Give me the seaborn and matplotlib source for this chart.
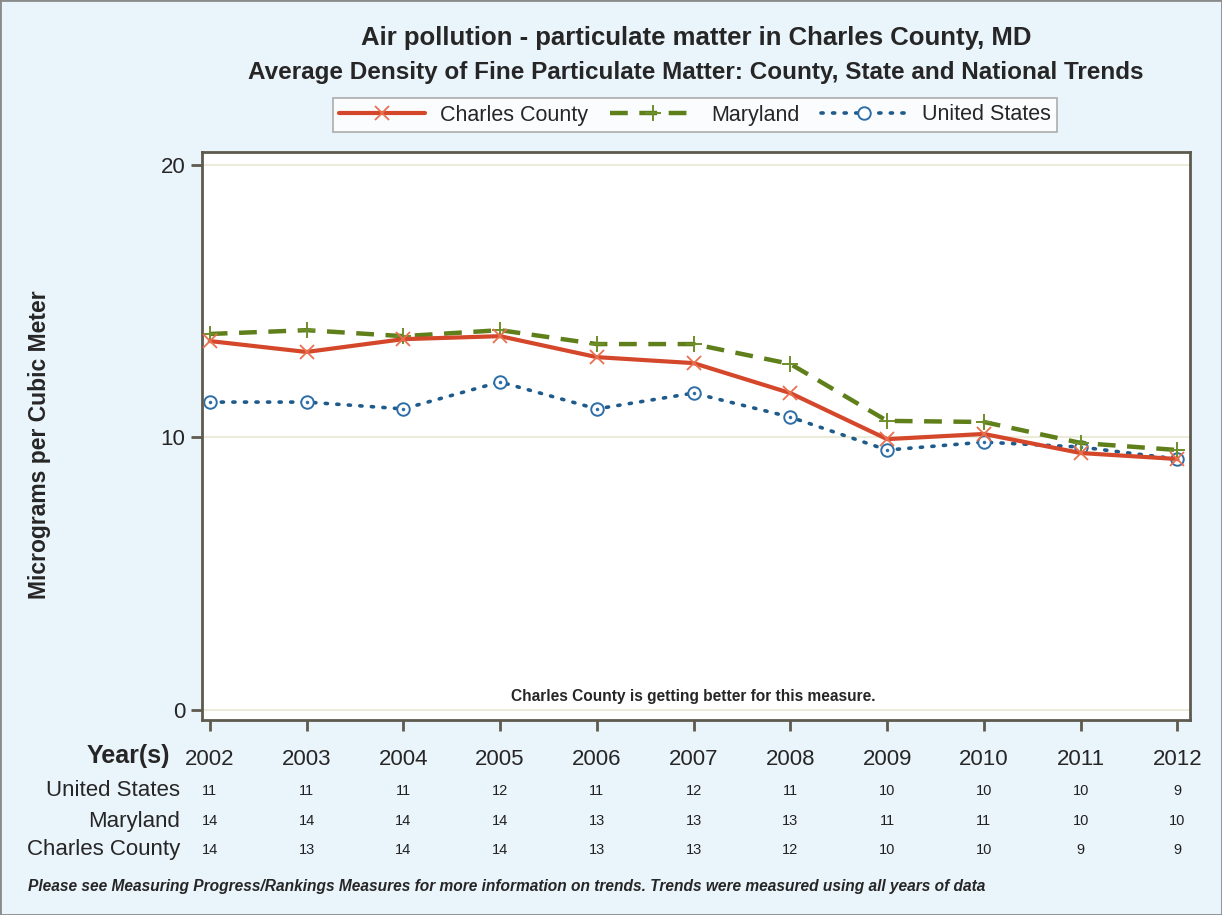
import matplotlib
matplotlib.use("Agg")
import matplotlib.pyplot as plt
import matplotlib.transforms as mtransforms
from matplotlib.patches import Rectangle
import seaborn as sns
import pandas as pd

years = [2002, 2003, 2004, 2005, 2006, 2007, 2008, 2009, 2010, 2011, 2012]
charles = [13.54, 13.14, 13.61, 13.72, 12.95, 12.73, 11.63, 9.94, 10.13, 9.43, 9.21]
maryland = [13.80, 13.94, 13.72, 13.94, 13.43, 13.43, 12.70, 10.61, 10.57, 9.80, 9.54]
united_states = [11.30, 11.30, 11.05, 12.04, 11.05, 11.63, 10.75, 9.54, 9.83, 9.65, 9.21]

table_us = ["11", "11", "11", "12", "11", "12", "11", "10", "10", "10", "9"]
table_md = ["14", "14", "14", "14", "13", "13", "13", "11", "11", "10", "10"]
table_cc = ["14", "13", "14", "14", "13", "13", "12", "10", "10", "9", "9"]

sns.set_theme(style="white")
plt.rcParams['font.family'] = ['Liberation Sans', 'DejaVu Sans']

W, H = 1222, 915
BG = "#EAF4FB"
fig = plt.figure(figsize=(W / 100, H / 100), dpi=100, facecolor=BG)
fig.patches.append(Rectangle((0, 0), 1, 1, transform=fig.transFigure, fill=False,
                             edgecolor="#8A8A8A", linewidth=2, zorder=10))

def fx(px):
    return px / W

def fy(py):
    return 1 - py / H

ax = fig.add_axes([fx(202), fy(720), fx(1190) - fx(202), fy(152) - fy(720)])
ax.set_facecolor("white")

df = pd.DataFrame({"year": years, "Charles County": charles,
                   "Maryland": maryland, "United States": united_states})

c_cc = "#D4472A"
c_md = "#5F7F1A"
c_us = "#1E5A8A"

for yv in [0, 10, 20]:
    ax.axhline(yv, color="#ECEAD8", lw=1.5, zorder=0)

sns.lineplot(data=df, x="year", y="Charles County", ax=ax, color=c_cc, lw=3,
             marker="x", markersize=10, markeredgewidth=1.3, markeredgecolor="#E8704F",
             label="Charles County", zorder=3)
sns.lineplot(data=df, x="year", y="Maryland", ax=ax, color=c_md, lw=3.2,
             marker="+", markersize=11, markeredgewidth=1.4, markeredgecolor="#6E8E2A",
             label="Maryland", zorder=2)
ax.lines[-1].set_dashes([4.0, 2.6])
sns.lineplot(data=df, x="year", y="United States", ax=ax, color=c_us, lw=2.6,
             marker="o", markersize=9, markerfacecolor="white", markeredgewidth=1.4,
             markeredgecolor="#2E6EA8", label="United States", zorder=1)
ax.lines[-1].set_dashes([0.6, 2.6])
ax.lines[-1].set_dash_capstyle("round")
ax.plot(years, united_states, linestyle="none", marker=".", markersize=3, color="#2E6EA8", zorder=1)

ax.set_xlim(2001.92, 2012.13)
ax.set_ylim(-0.37, 20.48)
ax.set_yticks([0, 10, 20])
ax.set_yticklabels(["0", "10", "20"], fontsize=16)
ax.set_xticks(years)
ax.set_xticklabels([str(y) for y in years], fontsize=16)
ax.tick_params(axis="y", direction="out", length=8, width=2, color="#5E5A4E", pad=4, left=True)
ax.tick_params(axis="x", direction="out", length=8, width=2, color="#5E5A4E", pad=13, bottom=True)
ax.set_xlabel("")
ax.set_ylabel("")
for s in ax.spines.values():
    s.set_color("#5E5A4E")
    s.set_linewidth(2)

leg = ax.legend(loc="center", bbox_to_anchor=(fx(695), fy(115)), bbox_transform=fig.transFigure,
                ncol=3, frameon=True, fancybox=False, edgecolor="#9A9A9A", fontsize=15.5,
                handlelength=4.0, columnspacing=1.0, handletextpad=0.7, borderpad=0.3)
leg.get_frame().set_linewidth(1.2)

fig.text(fx(696), fy(38), "Air pollution - particulate matter in Charles County, MD",
         ha="center", va="center", fontsize=18.5, fontweight="bold")
fig.text(fx(696), fy(72), "Average Density of Fine Particulate Matter: County, State and National Trends",
         ha="center", va="center", fontsize=17.5, fontweight="bold")
fig.text(fx(40), fy(445), "Micrograms per Cubic Meter", rotation=90, ha="center", va="center",
         fontsize=16.5, fontweight="bold")

ax.text(2007.0, 0.2, "Charles County is getting better for this measure.", ha="center",
        va="bottom", fontsize=11.2, fontweight="bold")

fig.text(fx(170), fy(756), "Year(s)", ha="right", va="center", fontsize=18, fontweight="bold")

trans = mtransforms.blended_transform_factory(ax.transData, fig.transFigure)
rows = [("United States", table_us, 791), ("Maryland", table_md, 821), ("Charles County", table_cc, 850)]
for label, vals, py in rows:
    fig.text(fx(180), fy(py), label, ha="right", va="center", fontsize=16)
    for x, v in zip(years, vals):
        ax.text(x, fy(py), v, transform=trans, ha="center", va="center", fontsize=10.5,
                color="#222222", clip_on=False)

fig.text(fx(28), fy(886), "Please see Measuring Progress/Rankings Measures for more information on trends. Trends were measured using all years of data",
         ha="left", va="center", fontsize=11.2, fontweight="bold", style="italic")

fig.savefig("out.png", dpi=100, facecolor=BG)
